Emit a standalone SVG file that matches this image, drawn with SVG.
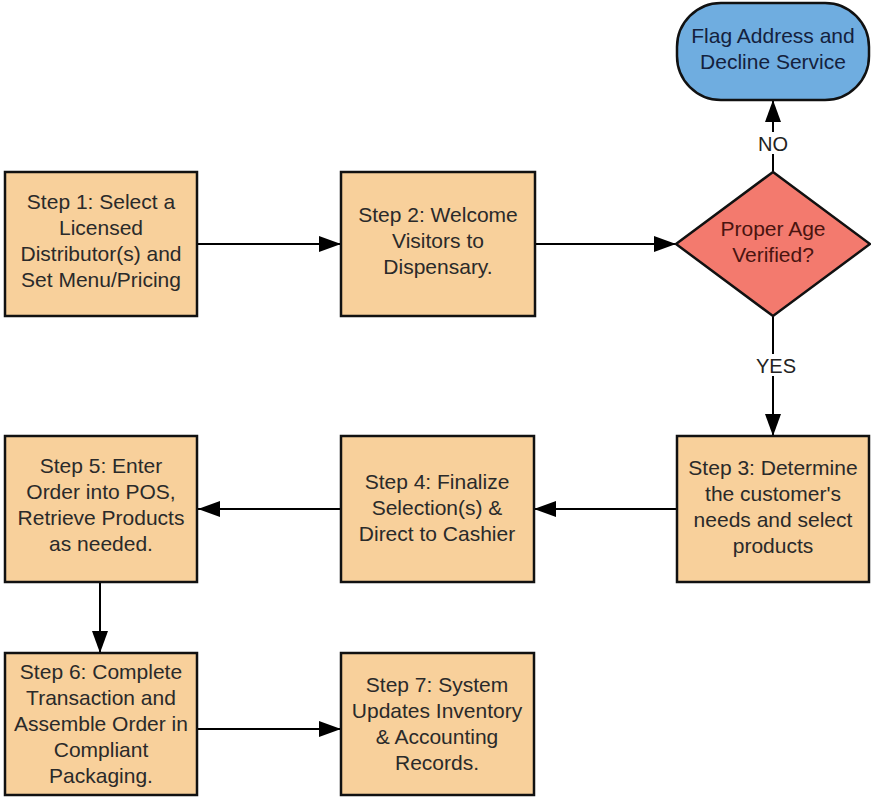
<svg xmlns="http://www.w3.org/2000/svg" width="871" height="798" viewBox="0 0 871 798">
<defs>
<style>
.box{fill:#f8d09b;stroke:#111;stroke-width:2.5}
.t{font-family:"Liberation Sans",Arial,sans-serif;font-size:21px;fill:#2a2a2a;text-anchor:middle}
.edge{stroke:#000;stroke-width:2;fill:none;marker-end:url(#ah)}
.lbl{font-family:"Liberation Sans",Arial,sans-serif;font-size:20px;fill:#222;text-anchor:middle}
</style>
<marker id="ah" viewBox="0 0 22 16" refX="22" refY="8" markerWidth="22" markerHeight="16" markerUnits="userSpaceOnUse" orient="auto">
<path d="M0,0 L22,8 L0,16 Z" fill="#000"/>
</marker>
</defs>
<rect width="871" height="798" fill="#fff"/>
<g id="connectors">
<line class="edge" x1="197" y1="244" x2="341" y2="244"/>
<line class="edge" x1="535" y1="244" x2="676" y2="244"/>
<line class="edge" x1="773" y1="172" x2="773" y2="100"/>
<line class="edge" x1="773" y1="316" x2="773" y2="436"/>
<line class="edge" x1="677" y1="509" x2="534" y2="509"/>
<line class="edge" x1="341" y1="509" x2="198" y2="509"/>
<line class="edge" x1="100" y1="582" x2="100" y2="653"/>
<line class="edge" x1="197" y1="729" x2="341" y2="729"/>
<rect x="755" y="132" width="36" height="22" fill="#fff"/>
<text class="lbl" x="773" y="151">NO</text>
<rect x="752" y="354" width="48" height="22" fill="#fff"/>
<text class="lbl" x="776" y="373">YES</text>
</g>
<g id="flag">
<rect x="677" y="3" width="192" height="97" rx="44" ry="44" fill="#6fadE0" stroke="#111" stroke-width="2.5"/>
<text class="t" style="fill:#14213d" x="773" y="43">Flag Address and</text>
<text class="t" style="fill:#14213d" x="773" y="69">Decline Service</text>
</g>
<g id="decision">
<polygon points="773,172 870,244 773,316 676,244" fill="#f37a6e" stroke="#111" stroke-width="2.5"/>
<text class="t" style="fill:#4a1410" x="773" y="236">Proper Age</text>
<text class="t" style="fill:#4a1410" x="773" y="262">Verified?</text>
</g>
<g id="step1">
<rect class="box" x="5" y="172" width="192" height="144"/>
<text class="t" x="101" y="209">Step 1: Select a</text>
<text class="t" x="101" y="235">Licensed</text>
<text class="t" x="101" y="261">Distributor(s) and</text>
<text class="t" x="101" y="287">Set Menu/Pricing</text>
</g>
<g id="step2">
<rect class="box" x="341" y="172" width="194" height="144"/>
<text class="t" x="438" y="222">Step 2: Welcome</text>
<text class="t" x="438" y="248">Visitors to</text>
<text class="t" x="438" y="274">Dispensary.</text>
</g>
<g id="step3">
<rect class="box" x="677" y="436" width="192" height="146"/>
<text class="t" x="773" y="475">Step 3: Determine</text>
<text class="t" x="773" y="501">the customer's</text>
<text class="t" x="773" y="527">needs and select</text>
<text class="t" x="773" y="553">products</text>
</g>
<g id="step4">
<rect class="box" x="341" y="436" width="193" height="146"/>
<text class="t" x="437" y="489">Step 4: Finalize</text>
<text class="t" x="437" y="515">Selection(s) &amp;</text>
<text class="t" x="437" y="541">Direct to Cashier</text>
</g>
<g id="step5">
<rect class="box" x="5" y="436" width="192" height="146"/>
<text class="t" x="101" y="473">Step 5: Enter</text>
<text class="t" x="101" y="499">Order into POS,</text>
<text class="t" x="101" y="525">Retrieve Products</text>
<text class="t" x="101" y="551">as needed.</text>
</g>
<g id="step6">
<rect class="box" x="5" y="653" width="192" height="142"/>
<text class="t" x="101" y="679">Step 6: Complete</text>
<text class="t" x="101" y="705">Transaction and</text>
<text class="t" x="101" y="731">Assemble Order in</text>
<text class="t" x="101" y="757">Compliant</text>
<text class="t" x="101" y="783">Packaging.</text>
</g>
<g id="step7">
<rect class="box" x="341" y="653" width="193" height="142"/>
<text class="t" x="437" y="692">Step 7: System</text>
<text class="t" x="437" y="718">Updates Inventory</text>
<text class="t" x="437" y="744">&amp; Accounting</text>
<text class="t" x="437" y="770">Records.</text>
</g>
</svg>
